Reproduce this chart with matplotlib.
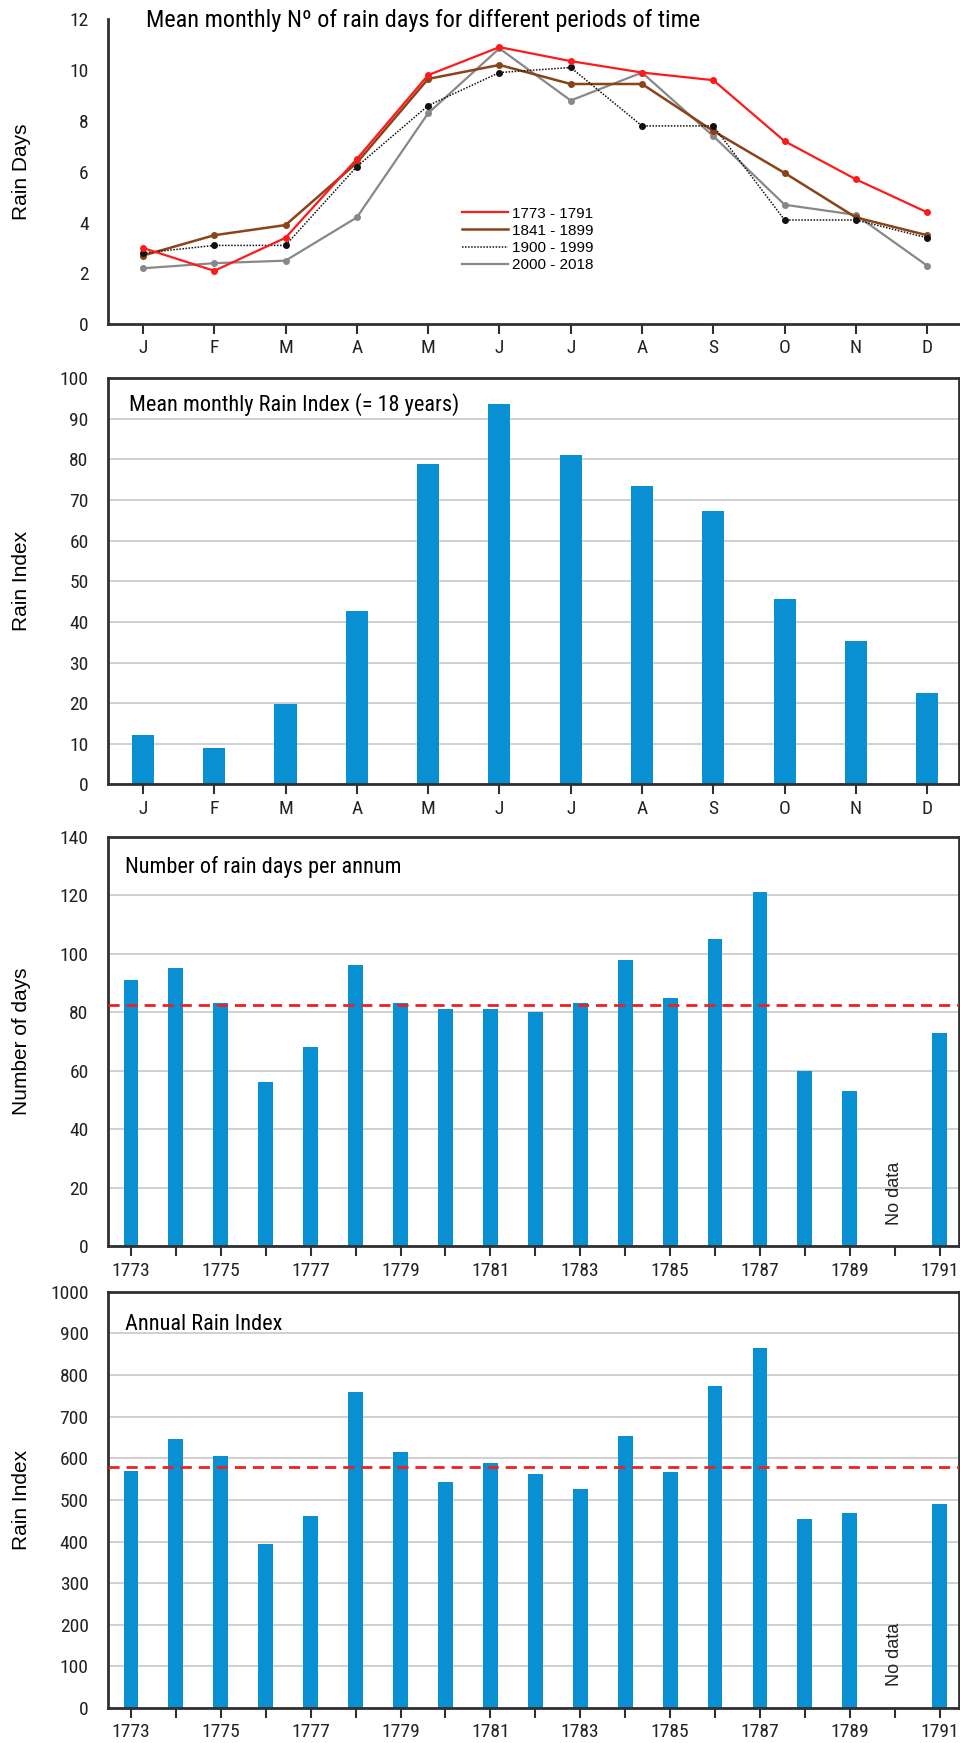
import numpy as np
import matplotlib.pyplot as plt
from matplotlib import font_manager
from matplotlib.lines import Line2D

# condensed face for ticks and titles, if it is there
def pick_font(names):
    for n in names:
        try:
            font_manager.findfont(n, fallback_to_default=False)
            return n
        except Exception:
            pass
    return "DejaVu Sans"

NARROW = pick_font(["Liberation Sans Narrow", "Roboto Condensed", "Liberation Sans"])
SANS = pick_font(["Liberation Sans", "DejaVu Sans"])

months = ["J", "F", "M", "A", "M", "J", "J", "A", "S", "O", "N", "D"]

# mean monthly rain days per period
days_1773 = [3.0, 2.1, 3.4, 6.5, 9.8, 10.9, 10.35, 9.9, 9.6, 7.2, 5.7, 4.4]
days_1841 = [2.7, 3.5, 3.9, 6.35, 9.65, 10.2, 9.45, 9.45, 7.6, 5.95, 4.2, 3.5]
days_1900 = [2.8, 3.1, 3.1, 6.2, 8.6, 9.9, 10.1, 7.8, 7.8, 4.1, 4.1, 3.4]
days_2000 = [2.2, 2.4, 2.5, 4.2, 8.3, 10.85, 8.8, 9.9, 7.4, 4.7, 4.3, 2.3]

# mean monthly rain index
month_index = [12.1, 9.0, 19.8, 42.7, 78.8, 93.6, 81.2, 73.4, 67.2, 45.7, 35.2, 22.6]

years = list(range(1773, 1792))
# 1790 has no record
rain_days = [91, 95, 83, 56, 68, 96, 83, 81, 81, 80, 83, 98, 85, 105, 121, 60, 53, None, 73]
rain_index = [570, 646, 606, 393, 461, 759, 614, 542, 589, 561, 527, 653, 566, 773, 865,
              453, 469, None, 489]

# long-term averages shown as dashed lines
mean_days = 82.5
mean_index = 580

BLUE = "#0890d2"
SPINE = "#303030"

fig = plt.figure(figsize=(9.6, 17.43), dpi=100)

L, W = 0.1125, 0.886
ax1 = fig.add_axes([L, 0.814, W, 0.175])
ax2 = fig.add_axes([L, 0.550, W, 0.233])
ax3 = fig.add_axes([L, 0.285, W, 0.235])
ax4 = fig.add_axes([L, 0.020, W, 0.239])


def style(ax, boxed=True):
    for s in ["left", "bottom", "top", "right"]:
        ax.spines[s].set_color(SPINE)
        ax.spines[s].set_linewidth(2)
    if not boxed:
        ax.spines["top"].set_visible(False)
        ax.spines["right"].set_visible(False)
    ax.tick_params(axis="y", length=0, pad=14, labelsize=14, labelcolor="#222222")
    ax.tick_params(axis="x", direction="out", length=7, width=1.5, color=SPINE,
                   pad=4, labelsize=14, labelcolor="#222222")
    for lab in ax.get_xticklabels() + ax.get_yticklabels():
        lab.set_fontfamily(NARROW)
    ax.yaxis.set_label_coords(-0.09, 0.5)


def grid(ax):
    ax.yaxis.grid(True, color="#c8c8c8", linewidth=1.2)
    ax.set_axisbelow(True)


xm = np.arange(len(months))

# --- panel 1: rain days per month
series = [
    (days_1773, "1773 - 1791", dict(color="#ff1a1a", lw=1.6), 4),
    (days_1841, "1841 - 1899", dict(color="#8b4318", lw=1.8), 3),
    (days_1900, "1900 - 1999", dict(color="#111111", lw=1.1, ls=(0, (1, 1))), 3),
    (days_2000, "2000 - 2018", dict(color="#888888", lw=1.6), 2),
]
handles = []
for vals, name, kw, z in series:
    ax1.plot(xm, vals, marker="o", ms=4, zorder=z, **kw)
    handles.append(Line2D([], [], label=name, **kw))
ax1.set_xlim(-0.49, 11.44)
ax1.set_ylim(0, 12)
ax1.set_yticks(range(0, 13, 2))
ax1.set_xticks(xm)
ax1.set_xticklabels(months)
ax1.set_ylabel("Rain Days", fontsize=15, family=SANS)
ax1.text(0.045, 0.995, "Mean monthly N\u00ba of rain days for different periods of time",
         transform=ax1.transAxes, fontsize=17.5, family=NARROW, va="center")
ax1.legend(handles=handles, loc="upper left", bbox_to_anchor=(0.40, 0.43), frameon=False,
           prop={"family": SANS, "size": 11}, handlelength=3.0, labelspacing=0.2,
           handletextpad=0.3)
style(ax1, boxed=False)

# --- panel 2: monthly rain index
ax2.bar(xm, month_index, width=0.31, color=BLUE)
ax2.set_xlim(-0.49, 11.44)
ax2.set_ylim(0, 100)
ax2.set_yticks(range(0, 101, 10))
ax2.set_xticks(xm)
ax2.set_xticklabels(months)
ax2.set_ylabel("Rain Index", fontsize=15, family=SANS)
ax2.text(0.025, 0.935, "Mean monthly Rain Index (= 18 years)", transform=ax2.transAxes,
         fontsize=16, family=NARROW, va="center")
grid(ax2)
style(ax2)

# --- panels 3 and 4: yearly series
year_labels = [str(y) if (y - 1773) % 2 == 0 else "" for y in years]
xy = np.arange(len(years))


def yearly(ax, vals, mean, ymax, step, ylabel, title, title_y, nodata_y):
    has = [v is not None for v in vals]
    xs = xy[has]
    vs = [v for v in vals if v is not None]
    ax.bar(xs, vs, width=0.33, color=BLUE)
    ax.axhline(mean, color="#f02020", lw=2, ls=(0, (4, 2.5)), zorder=3)
    miss = years.index(1790)
    ax.text(miss, nodata_y, "No data", rotation=90, ha="center", va="center",
            fontsize=13, family=SANS, color="#222222")
    ax.set_xlim(-0.51, 18.42)
    ax.set_ylim(0, ymax)
    ax.set_yticks(range(0, ymax + 1, step))
    ax.set_xticks(xy)
    ax.set_xticklabels(year_labels)
    ax.set_ylabel(ylabel, fontsize=15, family=SANS)
    ax.text(0.02, title_y, title, transform=ax.transAxes,
            fontsize=16, family=NARROW, va="center")
    grid(ax)
    style(ax)


yearly(ax3, rain_days, mean_days, 140, 20, "Number of days",
       "Number of rain days per annum", 0.925, 18)
yearly(ax4, rain_index, mean_index, 1000, 100, "Rain Index",
       "Annual Rain Index", 0.92, 130)

fig.savefig("out.png", dpi=100)
